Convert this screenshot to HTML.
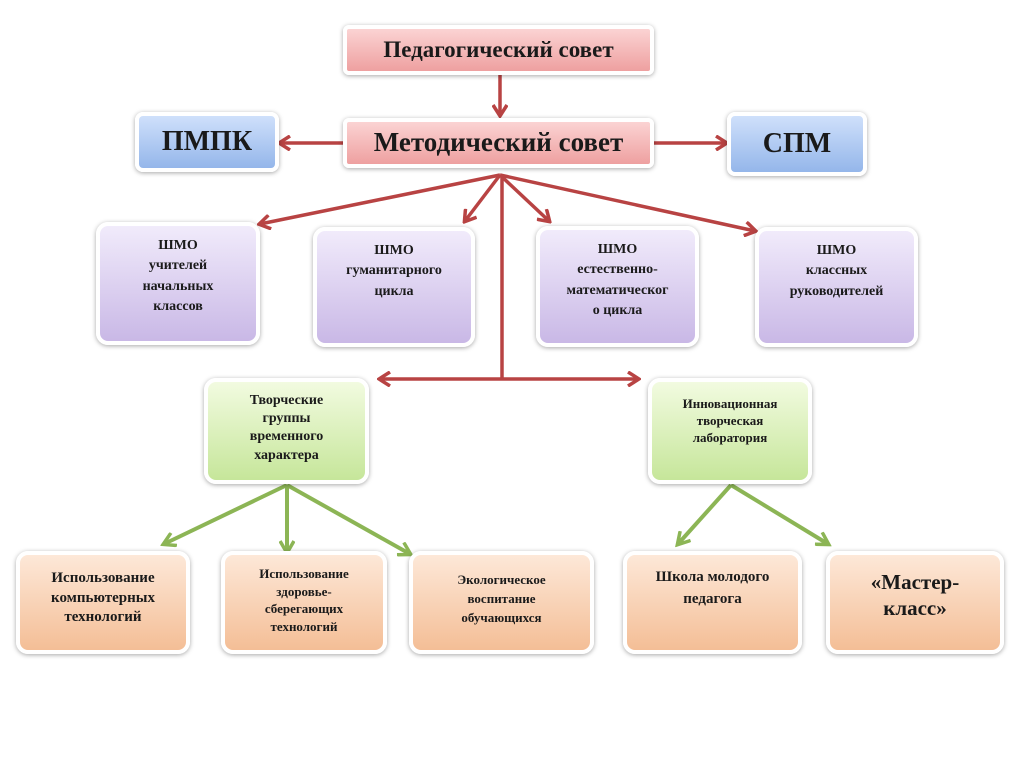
<!DOCTYPE html>
<html><head><meta charset="utf-8"><style>
html,body{margin:0;padding:0;background:#fff;width:1024px;height:777px;overflow:hidden;position:relative;font-family:"Liberation Serif","Noto Serif CJK SC",serif;font-weight:bold;color:#1a1a1a}
.b{position:absolute;box-sizing:border-box;border:4px solid #fff;border-radius:12px;box-shadow:0 1px 5px rgba(0,0,0,.35);text-align:center;display:flex;flex-direction:column;align-items:center;line-height:1.3}
.r{background:linear-gradient(#fbd3d3,#eea0a0);justify-content:center;font-size:22px;border-radius:6px}
.bl{background:linear-gradient(#cfe0fb,#94b6ea);justify-content:center;font-size:28px;border-radius:8px}
.p{background:linear-gradient(#f1ebfb,#c9b8e6);font-size:14px;padding-top:10px;line-height:1.45}
.g{background:linear-gradient(#f2fbe0,#c6e69a);font-size:14px;padding-top:10px}
.o{background:linear-gradient(#fde8d8,#f4be96);font-size:14px;padding-top:10px}
</style></head><body>
<svg width="1024" height="777" style="position:absolute;left:0;top:0">
<defs>
<marker id="ar" markerWidth="14" markerHeight="16" refX="11" refY="8" orient="auto" markerUnits="userSpaceOnUse"><path d="M1,1 L12,8 L1,15" fill="none" stroke="#b84343" stroke-width="3.5"/></marker>
<marker id="ag" markerWidth="16" markerHeight="16" refX="12" refY="8" orient="auto" markerUnits="userSpaceOnUse"><path d="M1,1 L13,8 L1,15" fill="none" stroke="#8cb555" stroke-width="3.5"/></marker>
</defs>
<g stroke="#b84343" stroke-width="3.5" fill="none">
<line x1="500" y1="75" x2="500" y2="115" marker-end="url(#ar)"/>
<line x1="345" y1="143" x2="280" y2="143" marker-end="url(#ar)"/>
<line x1="652" y1="143" x2="726" y2="143" marker-end="url(#ar)"/>
<line x1="500" y1="175" x2="260" y2="224" marker-end="url(#ar)"/>
<line x1="500" y1="175" x2="465" y2="221" marker-end="url(#ar)"/>
<line x1="500" y1="175" x2="549" y2="221" marker-end="url(#ar)"/>
<line x1="500" y1="175" x2="755" y2="231" marker-end="url(#ar)"/>
<line x1="502" y1="175" x2="502" y2="379"/>
<line x1="502" y1="379" x2="380" y2="379" marker-end="url(#ar)"/>
<line x1="502" y1="379" x2="638" y2="379" marker-end="url(#ar)"/>
</g>
<g stroke="#8cb555" stroke-width="4" fill="none">
<line x1="287" y1="485" x2="164" y2="544" marker-end="url(#ag)"/>
<line x1="287" y1="485" x2="287" y2="552" marker-end="url(#ag)"/>
<line x1="287" y1="485" x2="410" y2="554" marker-end="url(#ag)"/>
<line x1="731" y1="485" x2="678" y2="544" marker-end="url(#ag)"/>
<line x1="731" y1="485" x2="828" y2="544" marker-end="url(#ag)"/>
</g>
</svg>
<div class="b r" style="left:343px;top:25px;width:311px;height:50px;font-size:23px">Педагогический совет</div>
<div class="b r" style="left:343px;top:118px;width:311px;height:50px;font-size:27px">Методический совет</div>
<div class="b bl" style="left:135px;top:112px;width:144px;height:60px">ПМПК</div>
<div class="b bl" style="left:727px;top:112px;width:140px;height:64px">СПМ</div>
<div class="b p" style="left:96px;top:222px;width:164px;height:123px">ШМО<br>учителей<br>начальных<br>классов</div>
<div class="b p" style="left:313px;top:227px;width:162px;height:120px">ШМО<br>гуманитарного<br>цикла</div>
<div class="b p" style="left:536px;top:226px;width:163px;height:121px">ШМО<br>естественно-<br>математическог<br>о цикла</div>
<div class="b p" style="left:755px;top:227px;width:163px;height:120px">ШМО<br>классных<br>руководителей</div>
<div class="b g" style="left:204px;top:378px;width:165px;height:106px">Творческие<br>группы<br>временного<br>характера</div>
<div class="b g" style="left:648px;top:378px;width:164px;height:106px;font-size:13px;padding-top:14px">Инновационная<br>творческая<br>лаборатория</div>
<div class="b o" style="left:16px;top:551px;width:174px;height:103px;font-size:15px;padding-top:14px">Использование<br>компьютерных<br>технологий</div>
<div class="b o" style="left:221px;top:551px;width:166px;height:103px;font-size:13px;line-height:1.35">Использование<br>здоровье-<br>сберегающих<br>технологий</div>
<div class="b o" style="left:409px;top:551px;width:185px;height:103px;font-size:13px;padding-top:16px;line-height:1.45">Экологическое<br>воспитание<br>обучающихся</div>
<div class="b o" style="left:623px;top:551px;width:179px;height:103px;font-size:15px;padding-top:12px;line-height:1.45">Школа молодого<br>педагога</div>
<div class="b o" style="left:826px;top:551px;width:178px;height:103px;font-size:21px;padding-top:14px;line-height:1.25">«Мастер-<br>класс»</div>
</body></html>
